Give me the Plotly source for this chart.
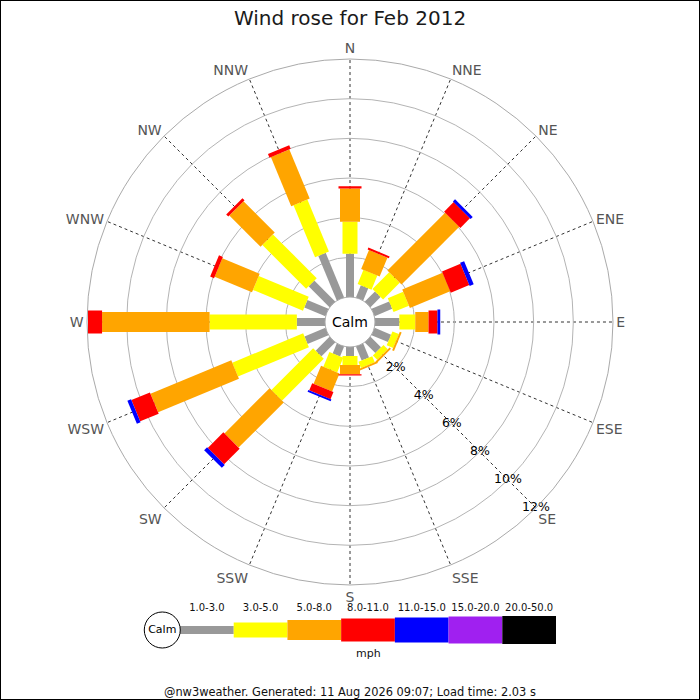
# Wind rose for Feb 2012 - nw3weather style
import plotly.graph_objects as go

# Directions (compass degrees, clockwise from N)
directions = ['N','NNE','NE','ENE','E','ESE','SE','SSE',
              'S','SSW','SW','WSW','W','WNW','NW','NNW']
theta_deg = [0,22.5,45,67.5,90,112.5,135,157.5,
             180,202.5,225,247.5,270,292.5,315,337.5]

# Speed classes (mph)
speed_labels = ['1.0-3.0','3.0-5.0','5.0-8.0','8.0-11.0',
                '11.0-15.0','15.0-20.0','20.0-50.0']

# Frequency (%) per speed class, per direction (order as directions)
pct_1_3   = [2.18,0.66,0.72,0.96,1.23,0.90,0.75,0.76,0.45,0.54,0.99,1.14,1.42,1.15,1.49,2.43]
pct_3_5   = [1.62,0.77,1.19,0.84,0.80,0.35,0.31,0.33,0.46,0.80,2.98,3.87,4.40,2.73,3.12,2.84]
pct_5_8   = [1.67,1.03,4.12,2.20,0.67,0.10,0.10,0.10,0.47,0.98,3.22,4.41,5.42,2.04,2.23,2.68]
pct_8_11  = [0.12,0.10,0.68,1.01,0.45,0.00,0.00,0.00,0.06,0.39,1.11,1.01,0.71,0.21,0.15,0.20]
pct_11_15 = [0.00,0.00,0.15,0.22,0.14,0.00,0.00,0.00,0.00,0.10,0.21,0.20,0.00,0.00,0.00,0.00]
pct_15_20 = [0]*16
pct_20_50 = [0]*16

radial_ticks = [2,4,6,8,10,12]
radial_label_theta = 135   # labels run down the SE spoke

title_text = "Wind rose for Feb 2012"
footer_text = "@nw3weather. Generated: 11 Aug 2026 09:07; Load time: 2.03 s"

"""Styling"""
pct_data = [pct_1_3,pct_3_5,pct_5_8,pct_8_11,pct_11_15,pct_15_20,pct_20_50]
colors = ['#999999','#ffff00','#ffa500','#ff0000','#0000ff','#a020f0','#000000']
widths = [8,15,20,23,25,27,28]
font = "DejaVu Sans"

fig = go.Figure()

"""Rose bars - drawn as thick radial strokes (constant pixel width)"""
base = [0.0]*16
for k in range(len(pct_data)):
    r_seg, t_seg = [], []
    for i in range(16):
        v = pct_data[k][i]
        if v > 0:
            r_seg += [base[i], base[i]+v, None]
            t_seg += [theta_deg[i], theta_deg[i], None]
        base[i] += v
    if r_seg:
        fig.add_trace(go.Scatterpolar(
            r=r_seg, theta=t_seg, mode='lines',
            line=dict(color=colors[k], width=widths[k]),
            showlegend=False, hoverinfo='skip'))

"""Radial % labels sitting on the SE spoke"""
fig.add_trace(go.Scatterpolar(
    r=radial_ticks, theta=[radial_label_theta]*len(radial_ticks),
    mode='text', text=[f"{v}%" for v in radial_ticks],
    textfont=dict(size=12.5, color='black'),
    cliponaxis=False, showlegend=False, hoverinfo='skip'))

fig.update_layout(
    width=700, height=700,
    margin=dict(l=0,r=0,t=0,b=0),
    paper_bgcolor='white', plot_bgcolor='white',
    font=dict(family=font),
    title=dict(text=title_text, x=0.5, y=0.974, xanchor='center', yanchor='middle',
               font=dict(size=20, color='#1a1a1a')),
    showlegend=False,
    polar=dict(
        domain=dict(x=[0.1243,0.8757], y=[0.1643,0.9157]),
        hole=0.095,
        bgcolor='white',
        angularaxis=dict(
            rotation=90, direction='clockwise',
            tickmode='array', tickvals=theta_deg, ticktext=directions,
            tickfont=dict(size=14, color='#555555'),
            ticks='', showline=True, linecolor='#aaaaaa', linewidth=1,
            showgrid=True, gridcolor='#333333', gridwidth=1, griddash='dot'),
        radialaxis=dict(
            range=[0,12], angle=-45,
            tickmode='array', tickvals=radial_ticks,
            showticklabels=False, ticks='', showline=False,
            showgrid=True, gridcolor='#b4b4b4', gridwidth=1)
    )
)

"""Legend strip on its own small cartesian axis"""
fig.update_layout(
    xaxis=dict(domain=[0.1996,0.7943], range=[-0.75,7], visible=False, fixedrange=True),
    yaxis=dict(domain=[0.0571,0.1429], range=[-1,1], visible=False, fixedrange=True)
)
for k in range(len(speed_labels)):
    fig.add_trace(go.Scatter(
        x=[k,k+1], y=[0,0], mode='lines',
        line=dict(color=colors[k], width=widths[k]),
        hoverinfo='skip', xaxis='x', yaxis='y'))
fig.add_trace(go.Scatter(
    x=[k+0.5 for k in range(len(speed_labels))], y=[0.72]*len(speed_labels),
    mode='text', text=speed_labels, textfont=dict(size=10, color='#111111'),
    hoverinfo='skip', cliponaxis=False, xaxis='x', yaxis='y'))
fig.add_trace(go.Scatter(
    x=[-0.33], y=[0], mode='markers+text', text=['Calm'],
    textposition='middle center', textfont=dict(size=11, color='black'),
    marker=dict(size=36, color='white', line=dict(color='black', width=1)),
    hoverinfo='skip', cliponaxis=False, xaxis='x', yaxis='y'))

fig.add_annotation(x=3.5, y=-0.77, xref='x', yref='y', text='mph', showarrow=False,
                   font=dict(size=11, color='#111111'))
fig.add_annotation(x=0.5, y=1-322/700, xref='paper', yref='paper', text='Calm',
                   showarrow=False, font=dict(size=14, color='black'))
fig.add_annotation(x=0.5, y=8/700, xref='paper', yref='paper', text=footer_text,
                   yanchor='middle', showarrow=False,
                   font=dict(size=11.4, color='#111111'))
fig.add_shape(type='rect', xref='paper', yref='paper', x0=0, y0=0, x1=1, y1=1,
              line=dict(color='black', width=2))

# page body has an 8px default margin - remove it so the 700x700 figure fills the window
fig.write_html("out.html", config={'displayModeBar': False},
               post_script="document.body.style.margin='0';")
